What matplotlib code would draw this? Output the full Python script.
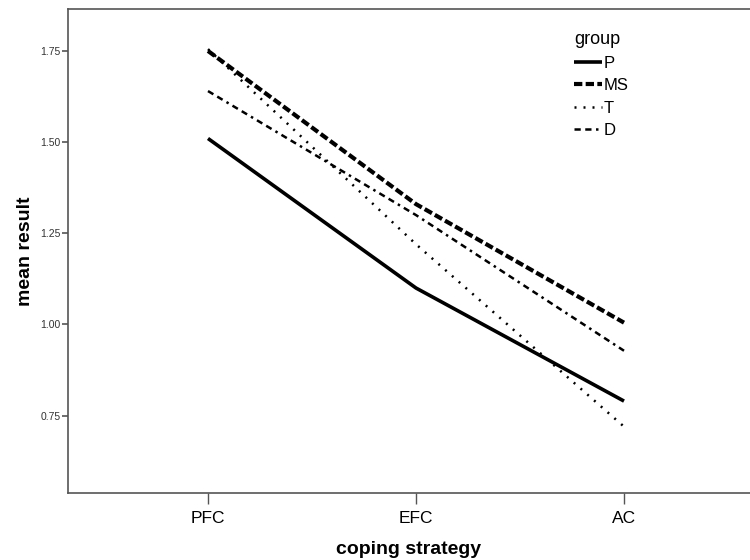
import matplotlib.pyplot as plt

# coping strategy categories
strategies = ["PFC", "EFC", "AC"]

# mean result per group
p_vals = [1.51, 1.10, 0.79]
ms_vals = [1.75, 1.33, 1.005]
t_vals = [1.755, 1.22, 0.72]
d_vals = [1.64, 1.30, 0.928]

plt.rcParams['font.family'] = ['Liberation Sans', 'DejaVu Sans']

fig = plt.figure(figsize=(7.5, 5.6), dpi=100)
ax = fig.add_axes([68/750, 1-493/560, (750-68)/750, (493-9)/560])

x = range(len(strategies))
ax.plot(x, p_vals, color="black", lw=2.6, solid_capstyle="butt", label="P")
ax.plot(x, ms_vals, color="black", lw=3.0, dashes=(2.0, 0.8), label="MS")
ax.plot(x, t_vals, color="black", lw=1.8, dashes=(0.8, 2.8), label="T")
ax.plot(x, d_vals, color="black", lw=1.8, dashes=(2.5, 1.8, 2.5, 1.8, 1, 1.8), label="D")

ax.set_xlim(-140/208, 2 + 126/208)
ax.set_ylim(0.538, 1.865)
ax.set_xticks(list(x))
ax.set_xticklabels(strategies, fontsize=12.5)
ax.set_yticks([0.75, 1.00, 1.25, 1.50, 1.75])
ax.set_yticklabels(["0.75", "1.00", "1.25", "1.50", "1.75"], fontsize=7.5, color="#333333")

for s in ["left", "bottom", "top"]:
    ax.spines[s].set_color("#555555")
    ax.spines[s].set_linewidth(1.2)
ax.spines["right"].set_visible(False)
ax.tick_params(axis="x", length=8, width=1, color="#555555", pad=5)
ax.tick_params(axis="y", length=4.5, width=1.2, color="#555555", pad=1)

ax.set_xlabel("coping strategy", fontsize=14, fontweight="bold", labelpad=11)
ax.set_ylabel("mean result", fontsize=14, fontweight="bold", labelpad=4)

leg = ax.legend(title="group", loc="upper left", bbox_to_anchor=(0.72, 0.985),
                frameon=False, fontsize=12, title_fontsize=13,
                handlelength=1.7, handletextpad=0.1, labelspacing=0.45)
leg._legend_box.align = "left"

fig.savefig("out.png", dpi=100)
